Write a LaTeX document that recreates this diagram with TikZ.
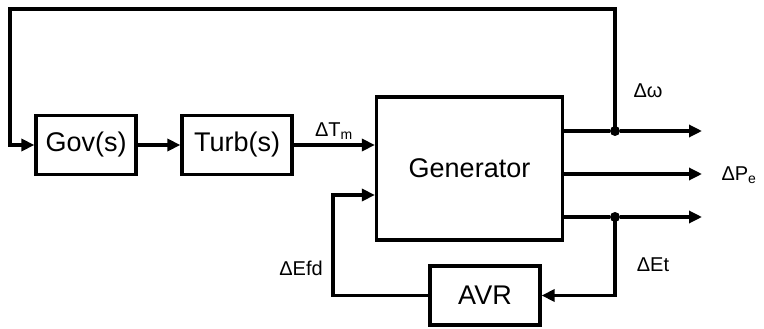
\documentclass[tikz,border=0pt]{standalone}
\usepackage{fontspec}
\setmainfont{Liberation Sans}
\usetikzlibrary{arrows.meta}
\begin{document}
\begin{tikzpicture}[x=1pt,y=-1pt,
  blk/.style={draw,line width=3.2pt,rectangle,inner sep=0pt,font=\fontsize{27}{27}\selectfont},
  sig/.style={line width=3.2pt},
  arr/.style={sig,-{Triangle[length=13pt,width=12pt]}},
  lbl/.style={font=\fontsize{20}{20}\selectfont,inner sep=0pt},
  dotnode/.style={circle,fill,inner sep=0pt,minimum size=10pt}]
\useasboundingbox (0,0) rectangle (764,329);
\node[blk,minimum width=100pt,minimum height=59pt] (gov) at (86,145) {Gov(s)};
\node[blk,minimum width=110pt,minimum height=59pt] (turb) at (237,145) {Turb(s)};
\node[blk,minimum width=186pt,minimum height=143pt] (gen) at (469.5,168.5) {Generator};
\node[blk,minimum width=110pt,minimum height=59pt] (avr) at (485,295.5) {AVR};
\node[dotnode] (d1) at (615,131) {};
\node[dotnode] (d3) at (615,217) {};
\coordinate (o1) at (702,131);
\coordinate (o2) at (702,174);
\coordinate (o3) at (702,217);
\coordinate (tr) at (615,9);
\coordinate (tl) at (10,9);
\coordinate (efdin) at (376,195);
\coordinate (efdc) at (333,295.5);
% forward path
\draw[arr] (gov.east) -- (turb.west);
\draw[arr] (turb.east) -- (gen.west |- turb.east);
% outputs
\draw[sig] (gen.east |- d1) -- (d1);
\draw[arr] (d1) -- (o1);
\draw[arr] (gen.east |- o2) -- (o2);
\draw[sig] (gen.east |- d3) -- (d3);
\draw[arr] (d3) -- (o3);
% speed feedback
\draw[arr] (d1.center) -- (tr) -- (tl) |- (gov.west);
% voltage loop
\draw[arr] (d3.center) |- (avr.east);
\draw[arr] (avr.west) -- (efdc) |- (gen.west |- efdin);
% labels
\node[lbl] at (334,131) {ΔT\textsubscript{m}};
\node[lbl] at (648,91) {Δω};
\node[lbl] at (739,175) {ΔP\textsubscript{e}};
\node[lbl] at (653,265) {ΔEt};
\node[lbl] at (301,268) {ΔEfd};
\end{tikzpicture}
\end{document}
